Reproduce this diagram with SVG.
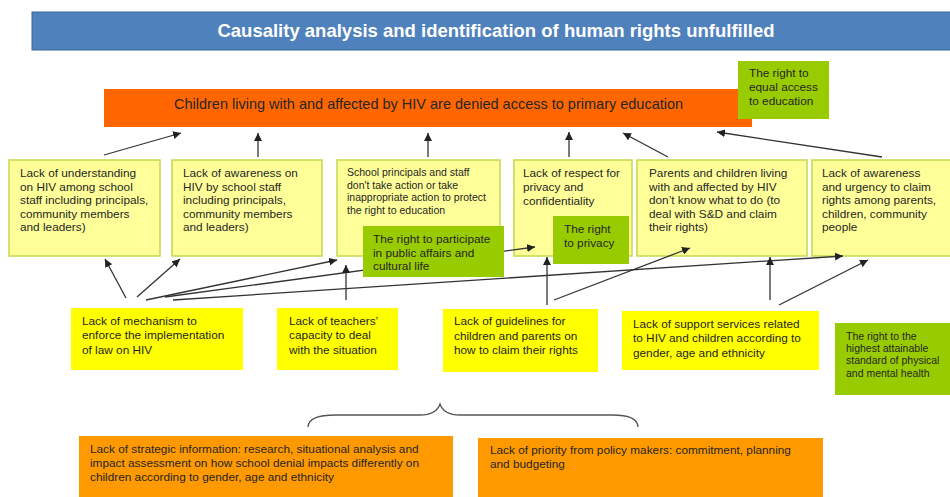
<svg xmlns="http://www.w3.org/2000/svg" width="950" height="497" viewBox="0 0 950 497">
<defs>
<marker id="ah" viewBox="0 0 8 8" refX="8" refY="4" markerWidth="8" markerHeight="8" markerUnits="userSpaceOnUse" orient="auto">
<path d="M0,0 L8,4 L0,8 z" fill="#222"/>
</marker>
</defs>
<style>
text{font-family:"Liberation Sans",Arial,sans-serif;fill:#262626;}
.lt{fill:#FFFF99;stroke:#C4D94E;stroke-width:1.5;}
.yl{fill:#FFFF00;}
.gr{fill:#99CC00;}
.or{fill:#FF9900;}
.t12{font-size:11.8px;}
.t105{font-size:10.5px;}
.c line,.c path.a{stroke:#333;stroke-width:1.3;fill:none;marker-end:url(#ah);}
</style>
<rect width="950" height="497" fill="#fff"/>
<g id="title">
<rect x="32" y="12" width="925" height="38" fill="#4F81BD" stroke="#3A6595" stroke-width="1"/>
<text x="496" y="37" text-anchor="middle" style="font-size:18.5px;font-weight:bold;fill:#fff">Causality analysis and identification of human rights unfulfilled</text>
</g>
<g id="problem">
<rect x="104" y="89" width="648" height="38" fill="#FF6600"/>
<text x="174" y="109" style="font-size:14.5px">Children living with and affected by HIV are denied access to primary education</text>
</g>
<g id="right-education">
<rect x="738" y="61" width="91" height="58" class="gr"/>
<text class="t12" x="749"><tspan x="749" y="77">The right to</tspan><tspan x="749" y="91">equal access</tspan><tspan x="749" y="105">to education</tspan></text>
</g>
<g id="c1">
<rect x="9" y="160" width="151" height="96" class="lt"/>
<text class="t12"><tspan x="20" y="177">Lack of understanding</tspan><tspan x="20" y="190.6">on HIV among school</tspan><tspan x="20" y="204.2">staff including principals,</tspan><tspan x="20" y="217.8">community members</tspan><tspan x="20" y="231.4">and leaders)</tspan></text>
</g>
<g id="c2">
<rect x="172" y="160" width="150" height="96" class="lt"/>
<text class="t12"><tspan x="183" y="177">Lack of awareness on</tspan><tspan x="183" y="190.6">HIV by school staff</tspan><tspan x="183" y="204.2">including principals,</tspan><tspan x="183" y="217.8">community members</tspan><tspan x="183" y="231.4">and leaders)</tspan></text>
</g>
<g id="c3">
<rect x="337" y="160" width="163" height="96" class="lt"/>
<text class="t105"><tspan x="347" y="176">School principals and staff</tspan><tspan x="347" y="188.7">don't take action or take</tspan><tspan x="347" y="201.4">inappropriate action to protect</tspan><tspan x="347" y="214">the right to education</tspan></text>
</g>
<g id="c4">
<rect x="514" y="160" width="118" height="96" class="lt"/>
<text class="t12"><tspan x="523" y="177">Lack of respect for</tspan><tspan x="523" y="191">privacy and</tspan><tspan x="523" y="205">confidentiality</tspan></text>
</g>
<g id="c5">
<rect x="637" y="160" width="170" height="96" class="lt"/>
<text class="t12"><tspan x="649" y="177">Parents and children living</tspan><tspan x="649" y="190.6">with and affected by HIV</tspan><tspan x="649" y="204.2">don’t know what to  do (to</tspan><tspan x="649" y="217.8">deal with S&amp;D and claim</tspan><tspan x="649" y="231.4">their rights)</tspan></text>
</g>
<g id="c6">
<rect x="812" y="160" width="145" height="96" class="lt"/>
<text class="t12"><tspan x="822" y="177">Lack of awareness</tspan><tspan x="822" y="190.6">and urgency to claim</tspan><tspan x="822" y="204.2">rights among parents,</tspan><tspan x="822" y="217.8">children, community</tspan><tspan x="822" y="231.4">people</tspan></text>
</g>
<g id="d1">
<rect x="71" y="308" width="172" height="62" class="yl"/>
<text class="t12"><tspan x="82" y="325">Lack of mechanism to</tspan><tspan x="82" y="339.3">enforce the implementation</tspan><tspan x="82" y="353.6">of law on HIV</tspan></text>
</g>
<g id="d2">
<rect x="277" y="308" width="121" height="62" class="yl"/>
<text class="t12"><tspan x="289" y="325">Lack of teachers’</tspan><tspan x="289" y="339.3">capacity to deal</tspan><tspan x="289" y="353.6">with the  situation</tspan></text>
</g>
<g id="d3">
<rect x="443" y="309" width="155" height="63" class="yl"/>
<text class="t12"><tspan x="454" y="325">Lack of guidelines for</tspan><tspan x="454" y="339.5">children and parents on</tspan><tspan x="454" y="354">how to claim their rights</tspan></text>
</g>
<g id="d4">
<rect x="622" y="311" width="197" height="59" class="yl"/>
<text class="t12"><tspan x="633" y="327.5">Lack of support services related</tspan><tspan x="633" y="342">to HIV  and children according to</tspan><tspan x="633" y="356.5">gender, age and ethnicity</tspan></text>
</g>
<g id="e1">
<rect x="79" y="436" width="374" height="64" class="or"/>
<text class="t12"><tspan x="90" y="453">Lack of strategic information: research, situational analysis and</tspan><tspan x="90" y="467">impact assessment on how school denial impacts differently on</tspan><tspan x="90" y="481">children according to gender, age and ethnicity</tspan></text>
</g>
<g id="e2">
<rect x="478" y="438" width="345" height="62" class="or"/>
<text class="t12"><tspan x="490" y="454">Lack of priority from policy makers: commitment, planning</tspan><tspan x="490" y="468">and budgeting</tspan></text>
</g>
<g id="connectors" class="c">
<line x1="104" y1="155" x2="181" y2="133"/>
<line x1="258" y1="157" x2="258" y2="133"/>
<line x1="428" y1="157" x2="428" y2="133"/>
<line x1="569" y1="157" x2="569" y2="132"/>
<line x1="668" y1="157" x2="623" y2="133"/>
<line x1="882" y1="157" x2="717" y2="132"/>
<line x1="126" y1="298" x2="105" y2="259"/>
<line x1="137" y1="297" x2="180" y2="259"/>
<line x1="146" y1="300" x2="337" y2="260"/>
<line x1="165" y1="297" x2="535" y2="247"/>
<line x1="173" y1="300" x2="843" y2="256"/>
<line x1="346" y1="300" x2="346" y2="265"/>
<line x1="547" y1="305" x2="547" y2="257"/>
<line x1="554" y1="300" x2="690" y2="248"/>
<line x1="770" y1="300" x2="770" y2="257"/>
<line x1="779" y1="305" x2="868" y2="260"/>
<path d="M308,427 C308,419 318,415 336,415 L420,415 C432,415 438,410 440,404 C442,410 448,415 460,415 L612,415 C630,415 638,420 638,427" fill="none" stroke="#555" stroke-width="1.3"/>
</g>
<g id="right-participate">
<rect x="363" y="226" width="141" height="51" class="gr"/>
<text class="t12"><tspan x="373" y="243">The right to participate</tspan><tspan x="373" y="256.7">in public affairs and</tspan><tspan x="373" y="270.4">cultural life</tspan></text>
</g>
<g id="right-privacy">
<rect x="553" y="216" width="76" height="48" class="gr"/>
<text class="t12"><tspan x="564" y="233">The right</tspan><tspan x="564" y="247">to privacy</tspan></text>
</g>
<g id="right-health">
<rect x="835" y="323" width="120" height="72" class="gr"/>
<text class="t105"><tspan x="846" y="340">The right to the</tspan><tspan x="846" y="352">highest attainable</tspan><tspan x="846" y="364">standard of physical</tspan><tspan x="846" y="376.5">and mental health</tspan></text>
</g>
</svg>
